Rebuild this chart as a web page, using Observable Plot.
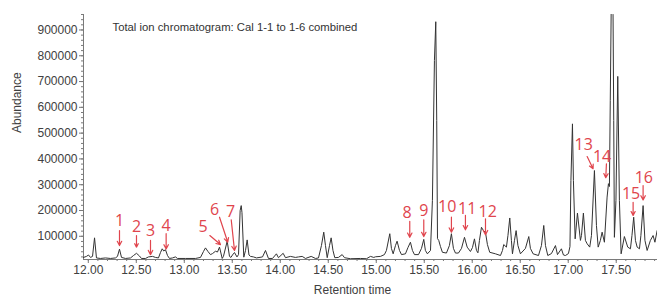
<!DOCTYPE html>
<html>
<head>
<meta charset="utf-8">
<script src="https://cdn.jsdelivr.net/npm/d3@7"></script>
<script src="https://cdn.jsdelivr.net/npm/@observablehq/plot@0.6"></script>
<style>
  html, body { margin: 0; padding: 0; background: #fff; }
  #chart { width: 657px; height: 299px; overflow: hidden; }
</style>
</head>
<body>
<div id="chart"></div>
<script>
// ---- Data ----
const retentionTime = [
11.950, 11.981, 12.002, 12.023, 12.044, 12.065, 12.085, 12.127, 12.179, 12.231,
12.283, 12.304, 12.325, 12.346, 12.388, 12.440, 12.471, 12.502, 12.533, 12.554,
12.596, 12.627, 12.669, 12.700, 12.731, 12.752, 12.770, 12.786, 12.804, 12.825,
12.846, 12.877, 12.908, 12.929, 13.013, 13.117, 13.169, 13.200, 13.221, 13.247,
13.273, 13.294, 13.325, 13.346, 13.367, 13.395, 13.408, 13.447, 13.471, 13.486,
13.502, 13.523, 13.549, 13.565, 13.582, 13.593, 13.601, 13.620, 13.638, 13.655,
13.674, 13.690, 13.721, 13.752, 13.815, 13.846, 13.877, 13.919, 13.960, 13.981,
14.030, 14.054, 14.106, 14.158, 14.190, 14.228, 14.263, 14.322, 14.367, 14.398,
14.429, 14.453, 14.471, 14.489, 14.513, 14.530, 14.549, 14.568, 14.606, 14.645,
14.669, 14.731, 14.835, 14.898, 14.940, 14.974, 14.992, 15.044, 15.085, 15.106,
15.141, 15.158, 15.176, 15.200, 15.217, 15.242, 15.263, 15.304, 15.330, 15.356,
15.377, 15.398, 15.440, 15.471, 15.495, 15.512, 15.533, 15.565, 15.585, 15.606,
15.620, 15.630, 15.638, 15.651, 15.669, 15.689, 15.731, 15.762, 15.783, 15.804,
15.825, 15.856, 15.888, 15.919, 15.947, 15.981, 16.002, 16.023, 16.044, 16.059,
16.075, 16.096, 16.117, 16.138, 16.158, 16.182, 16.242, 16.294, 16.315, 16.328,
16.356, 16.372, 16.391, 16.408, 16.419, 16.440, 16.457, 16.476, 16.502, 16.554,
16.589, 16.606, 16.634, 16.690, 16.721, 16.745, 16.763, 16.787, 16.825, 16.867,
16.888, 16.929, 16.950, 16.971, 17.002, 17.018, 17.028, 17.044, 17.054, 17.072,
17.096, 17.127, 17.138, 17.158, 17.179, 17.197, 17.224, 17.242, 17.273, 17.294,
17.312, 17.335, 17.353, 17.377, 17.405, 17.419, 17.429, 17.438, 17.455, 17.467,
17.474, 17.481, 17.497, 17.516, 17.533, 17.551, 17.585, 17.620, 17.648, 17.664,
17.682, 17.700, 17.718, 17.742, 17.757, 17.780, 17.799, 17.822, 17.856, 17.884,
17.903, 17.926
];
const abundance = [
18000, 22000, 27500, 18000, 22000, 94000, 16000, 14000, 16000, 14000,
16000, 22000, 50000, 18000, 14000, 16000, 25500, 34000, 23600, 14000,
14000, 20000, 22000, 18000, 16000, 37000, 51500, 43000, 48000, 25500,
14000, 16000, 20000, 14000, 14000, 14000, 18000, 41000, 55000, 41000,
29000, 33000, 42000, 39000, 58000, 14000, 22000, 81000, 22000, 18000,
27500, 37000, 20000, 29000, 200000, 219000, 192000, 19000, 45000, 86000,
27500, 22000, 20000, 16000, 20000, 45000, 14000, 14000, 32000, 17000,
34000, 17000, 22000, 18000, 20000, 22000, 14000, 22000, 14000, 16000,
64000, 116000, 64000, 17000, 64000, 94000, 45000, 17000, 18000, 29000,
17000, 13000, 14000, 13000, 22000, 18000, 20500, 22000, 29000, 45000,
110000, 53000, 32000, 64000, 81000, 45000, 29000, 32000, 56000, 77000,
45000, 29000, 29000, 53000, 88000, 45000, 32000, 45000, 239000, 782000,
932000, 549000, 91000, 84000, 60000, 38000, 35000, 64000, 110000, 53000,
35000, 35000, 53000, 96000, 58000, 41000, 56000, 90000, 45000, 36000,
84000, 135000, 122000, 115000, 68000, 38000, 32000, 25500, 45000, 68000,
58000, 103000, 171000, 84000, 32000, 84000, 122000, 64000, 32000, 53000,
99000, 53000, 32000, 25500, 64000, 142000, 64000, 25500, 33000, 64000,
29000, 51500, 27500, 25500, 33000, 60000, 316000, 536000, 316000, 90000,
190000, 84000, 103000, 190000, 84000, 71000, 58000, 103000, 355000, 142000,
58000, 84000, 116000, 77000, 252000, 304000, 293000, 627000, 1250000, 960000,
549000, 96000, 239000, 720000, 239000, 32000, 99000, 58000, 51500, 103000,
174000, 84000, 58000, 51500, 103000, 219000, 84000, 45000, 84000, 103000,
77000, 122000
];

// Peak annotations (numbers and arrows)
const peakLabel = ["1","2","3","4","5","6","7","8","9","10","11","12","13","14","15","16"];
const labelTime = [12.325, 12.502, 12.648, 12.811, 13.197, 13.315, 13.481, 15.322, 15.495, 15.739, 15.947, 16.161, 17.161, 17.353, 17.655, 17.787];
const labelAbundance = [158000, 135000, 120000, 142000, 135000, 203000, 193000, 190000, 200000, 213000, 207000, 196000, 455000, 409000, 265000, 327000];
const arrowStartTime = [12.325, 12.502, 12.648, 12.811, 13.266, 13.367, 13.489, 15.349, 15.495, 15.783, 15.929, 16.138, 17.197, 17.398, 17.676, 17.780];
const arrowStartAbundance = [122000, 103000, 84000, 110000, 103000, 174000, 164000, 158000, 164000, 174000, 181000, 168000, 409000, 381000, 232000, 297000];
const arrowEndTime = [12.325, 12.502, 12.648, 12.811, 13.377, 13.453, 13.523, 15.349, 15.495, 15.783, 15.929, 16.138, 17.259, 17.391, 17.676, 17.780];
const arrowEndAbundance = [64000, 58000, 29000, 51000, 68000, 77000, 45000, 96000, 99000, 116000, 125000, 106000, 362000, 327000, 181000, 241000];

// Axis ticks
const xTicks = [12.0, 12.5, 13.0, 13.5, 14.0, 14.5, 15.0, 15.5, 16.0, 16.5, 17.0, 17.5];
const yTicks = [100000, 200000, 300000, 400000, 500000, 600000, 700000, 800000, 900000];
const xDomain = [11.95, 17.93];
const yDomain = [10000, 960000];
const titleText = "Total ion chromatogram: Cal 1-1 to 1-6 combined";

// ---- Build ----
const trace = retentionTime.map((t, i) => ({t, a: abundance[i]}));
const notes = peakLabel.map((n, i) => ({
  n, lx: labelTime[i], ly: labelAbundance[i],
  x1: arrowStartTime[i], y1: arrowStartAbundance[i],
  x2: arrowEndTime[i], y2: arrowEndAbundance[i]
}));
const xMinor = d3.range(120, 180).map(d => d / 10).filter(d => d >= xDomain[0] && d <= xDomain[1]);
const yMinor = d3.range(20000, 960001, 20000);

const red = "#e0454d";
const axisGray = "#7a7a7a";
const textGray = "#404040";

const chart = Plot.plot({
  width: 657,
  height: 299,
  marginLeft: 83,
  marginRight: 0,
  marginTop: 14,
  marginBottom: 40,
  x: {domain: xDomain},
  y: {domain: yDomain},
  style: {fontFamily: "'Liberation Sans', Arial, sans-serif", fontSize: "12px", color: textGray, background: "#fff"},
  marks: [
    Plot.axisX(xMinor, {tickSize: 2, tickFormat: () => "", stroke: axisGray, label: null}),
    Plot.axisX(xTicks, {tickSize: 4, tickPadding: 2, tickFormat: d => d.toFixed(2), stroke: axisGray, fill: textGray, label: null}),
    Plot.axisY(yMinor, {tickSize: 2, tickFormat: () => "", stroke: axisGray, label: null}),
    Plot.axisY(yTicks, {tickSize: 4, tickPadding: 2, tickFormat: d => String(d), stroke: axisGray, fill: textGray, label: null}),
    Plot.ruleX([xDomain[0]], {stroke: axisGray}),
    Plot.ruleY([yDomain[0]], {stroke: axisGray}),
    Plot.line(trace, {x: "t", y: "a", stroke: "#333", strokeWidth: 1, clip: true}),
    Plot.arrow(notes, {x1: "x1", y1: "y1", x2: "x2", y2: "y2", stroke: red, strokeWidth: 1.2, headLength: 6, headAngle: 55}),
    Plot.text(notes, {x: "lx", y: "ly", text: "n", fill: red, fontSize: 16, fontFamily: "'Open Sans', sans-serif"}),
    Plot.text([titleText], {frameAnchor: "top-left", dx: 29, dy: 13, textAnchor: "start", lineAnchor: "middle", fill: "#333", fontSize: 11.3}),
    Plot.text(["Abundance"], {frameAnchor: "left", dx: -66, dy: -4, rotate: -90, fill: textGray, fontSize: 12}),
    Plot.text(["Retention time"], {frameAnchor: "bottom", dx: -18, dy: 34, fill: textGray, fontSize: 12})
  ]
});
document.getElementById("chart").append(chart);
</script>
</body>
</html>
